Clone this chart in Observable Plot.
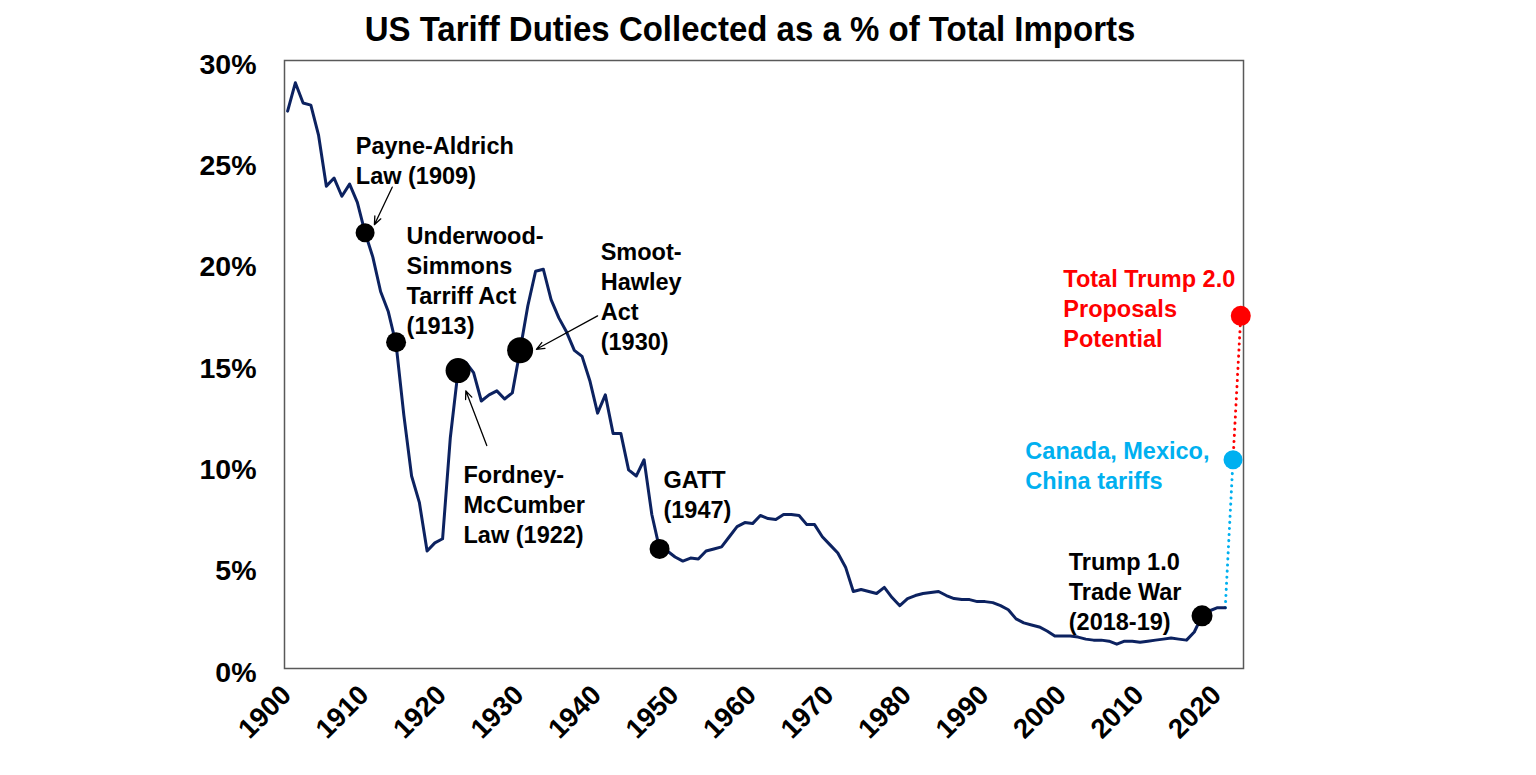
<!DOCTYPE html>
<html>
<head>
<meta charset="utf-8">
<script src="https://cdn.jsdelivr.net/npm/d3@7"></script>
<script src="https://cdn.jsdelivr.net/npm/@observablehq/plot@0.6"></script>
<style>
  html, body { margin: 0; padding: 0; background: #fff; overflow: hidden; }
  body { font-family: "Liberation Sans", Arial, sans-serif; }
  #title { position: relative; width: 1536px; height: 50px; }
  #title span { position: absolute; left: 750px; top: 12px; transform: translateX(-50%) scaleY(1.06);
    font-size: 33px; line-height: 1; font-weight: bold; color: #000; white-space: nowrap; }
</style>
</head>
<body>
<div id="title"><span>US Tariff Duties Collected as a % of Total Imports</span></div>
<div id="chart"></div>
<script>
// ---- data ----
const firstYear = 1900;
const tariffPct = [
  27.5, 28.9, 27.9, 27.8, 26.3, 23.8, 24.2, 23.3, 23.9, 23.0,   // 1900s
  21.5, 20.3, 18.6, 17.6, 16.0, 12.5, 9.5, 8.2, 5.8, 6.2,       // 1910s
  6.4, 11.4, 14.7, 15.1, 14.6, 13.2, 13.5, 13.7, 13.3, 13.6,    // 1920s
  15.7, 17.9, 19.6, 19.7, 18.2, 17.3, 16.6, 15.7, 15.4, 14.2,   // 1930s
  12.6, 13.5, 11.6, 11.6, 9.8, 9.5, 10.3, 7.6, 5.9, 5.8,        // 1940s
  5.5, 5.3, 5.45, 5.4, 5.8, 5.9, 6.0, 6.5, 7.0, 7.2,            // 1950s
  7.15, 7.55, 7.4, 7.35, 7.6, 7.6, 7.55, 7.1, 7.1, 6.5,         // 1960s
  6.1, 5.7, 5.0, 3.8, 3.9, 3.8, 3.7, 4.0, 3.5, 3.1,             // 1970s
  3.45, 3.6, 3.7, 3.75, 3.8, 3.6, 3.45, 3.4, 3.4, 3.3,          // 1980s
  3.3, 3.25, 3.1, 2.9, 2.45, 2.25, 2.15, 2.05, 1.85, 1.6,       // 1990s
  1.6, 1.6, 1.55, 1.45, 1.4, 1.4, 1.35, 1.2, 1.35, 1.35,        // 2000s
  1.3, 1.35, 1.4, 1.45, 1.5, 1.45, 1.4, 1.8, 2.6, 2.85,         // 2010s
  3.0, 3.0                                                      // 2020-21
];
const years = tariffPct.map((_, i) => firstYear + i);

// highlighted policy events (dots on the line)
const eventYears  = [1910, 1914, 1922, 1930, 1948, 2018];
const eventValues = [21.5, 16.1, 14.7, 15.7, 5.9, 2.6];

// Trump 2.0 scenarios
const cmcYears  = [2021, 2022];   // Canada, Mexico, China tariffs
const cmcValues = [3.0, 10.3];
const totYears  = [2022, 2023];   // Total Trump 2.0 proposals
const totValues = [10.3, 17.4];

// annotation labels (anchored in data units: year, percent)
const annLabels = [
  "Payne-Aldrich\nLaw (1909)",
  "Underwood-\nSimmons\nTarriff Act\n(1913)",
  "Smoot-\nHawley\nAct\n(1930)",
  "Fordney-\nMcCumber\nLaw (1922)",
  "GATT\n(1947)",
  "Trump 1.0\nTrade War\n(2018-19)",
  "Canada, Mexico,\nChina tariffs",
  "Total Trump 2.0\nProposals\nPotential"
];
const annYears  = [1908.8, 1915.35, 1940.4, 1922.7, 1948.5, 2000.8, 1995.2, 2000.1];
const annValues = [26.45, 22.0, 21.2, 10.2, 9.97, 5.92, 11.37, 19.87];

// arrows from label to event
const arrowFromYears  = [1913.5, 1940.0, 1925.7];
const arrowFromValues = [23.75, 17.4, 11.0];
const arrowToYears    = [1911.2, 1932.1, 1923.0];
const arrowToValues   = [21.9, 15.75, 13.7];

const xTicks = [1900, 1910, 1920, 1930, 1940, 1950, 1960, 1970, 1980, 1990, 2000, 2010, 2020];
const yTicks = [0, 5, 10, 15, 20, 25, 30];

// ---- tables built from the arrays ----
const series = years.map((y, i) => ({year: y, value: tariffPct[i]}));
const events = eventYears.map((y, i) => ({year: y, value: eventValues[i]}));
const cmc = cmcYears.map((y, i) => ({year: y, value: cmcValues[i]}));
const tot = totYears.map((y, i) => ({year: y, value: totValues[i]}));
const anns = annLabels.map((t, i) => ({text: t, year: annYears[i], value: annValues[i]}));
const arrows = arrowFromYears.map((y, i) => ({x1: y, y1: arrowFromValues[i], x2: arrowToYears[i], y2: arrowToValues[i]}));

const eventRadius = [9.5, 10, 12.5, 13, 10, 10.5];
const annColor = ["#000", "#000", "#000", "#000", "#000", "#000", "#00B0F0", "#FF0000"];

const chart = Plot.plot({
  width: 1536,
  height: 725,
  marginTop: 10,
  marginBottom: 107,
  marginLeft: 284,
  marginRight: 293,
  style: {fontFamily: "'Liberation Sans', Arial, sans-serif", fontWeight: "bold", color: "#000", background: "#fff", overflow: "visible"},
  x: {domain: [1899.6, 2023.35]},
  y: {domain: [0, 30]},
  r: {type: "identity"},
  marks: [
    Plot.axisY({ticks: yTicks, tickFormat: d => d + "%", tickSize: 0, tickPadding: 28, fontSize: 28.5, fontWeight: "bold", dy: 4, label: null}),
    Plot.axisX({ticks: xTicks, tickFormat: d => String(d), tickRotate: -45, tickSize: 0, tickPadding: 22, fontSize: 27.5, fontWeight: "bold", dx: -1, label: null}),
    Plot.frame({stroke: "#595959", strokeWidth: 1.5}),
    Plot.line(cmc, {x: "year", y: "value", stroke: "#00B0F0", strokeWidth: 3, strokeDasharray: "0.1 6", strokeLinecap: "round"}),
    Plot.line(tot, {x: "year", y: "value", stroke: "#FF0000", strokeWidth: 3, strokeDasharray: "0.1 6", strokeLinecap: "round"}),
    Plot.line(series, {x: "year", y: "value", stroke: "#0C2260", strokeWidth: 3, strokeLinejoin: "round"}),
    Plot.dot(events, {x: "year", y: "value", r: (d, i) => eventRadius[i], fill: "#000", stroke: "none"}),
    Plot.dot([cmc[1]], {x: "year", y: "value", r: 9.5, fill: "#00B0F0"}),
    Plot.dot([tot[1]], {x: "year", y: "value", r: 10, fill: "#FF0000"}),
    Plot.arrow(arrows, {x1: "x1", y1: "y1", x2: "x2", y2: "y2", stroke: "#000", strokeWidth: 1.3, headLength: 10, headAngle: 45}),
    Plot.text(anns, {x: "year", y: "value", text: "text", fill: (d, i) => annColor[i], textAnchor: "start", lineAnchor: "top", lineHeight: 1.28, fontSize: 23.5, fontWeight: "bold"})
  ]
});
document.getElementById("chart").appendChild(chart);
</script>
</body>
</html>
